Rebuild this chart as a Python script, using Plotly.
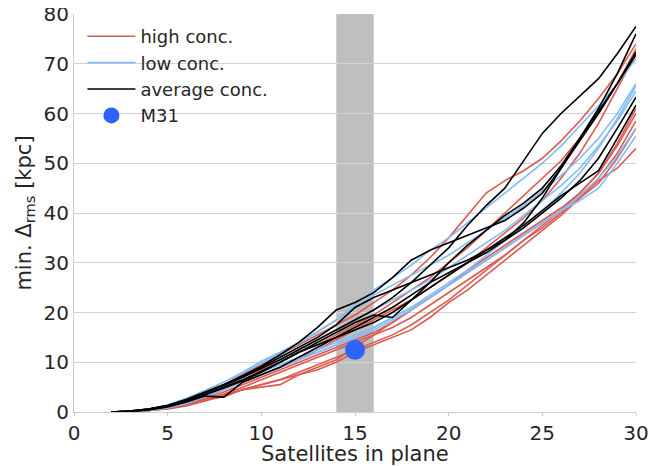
import plotly.graph_objects as go

n_sat = list(range(2, 31))

high_conc = [
    [0,0.2,0.6,1.3,2.5,4,5.5,7.5,9.5,11.5,13.5,15.5,17.5,19.5,22,24.5,27.5,31,35,39.5,44,46.5,48.5,51,54.5,58.5,63,68,74],
    [0,0.2,0.5,1.1,2.2,3.5,5,7,8.5,10,12,13.5,15.5,17.5,19.5,22,24.5,27,30,33,36.5,40,43.5,47,50.5,55,60,66,73],
    [0,0.1,0.4,0.9,1.8,3,4.5,6,7.5,9,10.5,12.5,14.5,16.5,18.5,20.5,22.5,25,27.5,30,33,36,39,42.5,47,52,58,65,72],
    [0,0.1,0.3,0.7,1.5,2.5,3.5,4.5,5.5,6.5,8,9.5,11,12.5,14,15.5,17.5,20,22.5,25.5,28.5,31.5,34.5,37.5,40.5,44,48,54,61],
    [0,0.1,0.3,0.8,1.6,2.6,3,4.5,5,5.5,7.5,9,10.5,13,15.5,18,20.5,23,25.5,28.5,31,33.5,36,38.5,41,44,48,53.5,60],
    [0,0.1,0.3,0.6,1.2,2.2,3.2,4.5,5.5,6.5,7.5,8.5,10,12,13.5,15,16.5,19,22,24.5,27.5,30.5,33.5,36.5,39.5,43,47,52,58.5],
    [0,0.1,0.4,0.9,1.8,2.8,4,5.5,7,8.5,10,11.5,13,14.5,16,18,20.5,23,25.5,28,30.5,33,35.5,38,40.5,43.5,46.5,49,53],
    [0,0.1,0.3,0.7,1.4,2.4,3.6,5,6.5,8,9.5,11,12.5,14,15.5,17,19,21.5,24,26.5,29,31.5,34.5,37,40,43,46,51,57],
]

low_conc = [
    [0,0.2,0.6,1.4,2.7,4.3,6,8,10.2,12,14,16.2,18.5,21.5,24.5,27,29.5,32.5,35,38,41,44,47,50,53.5,57.5,61.5,66,71],
    [0,0.2,0.6,1.4,2.7,4.2,6,7.8,9.8,11.8,13.8,16,18.5,21,23.5,25.5,27.5,29.5,31.5,34,36.5,39,41.5,44.5,47.5,51,55,60,66],
    [0,0.1,0.4,1,2,3.3,4.8,6.3,8,9.5,11,12.5,14,15.5,17,19,21,23.5,26,28.5,31.5,34.5,37.5,40.5,44,48,53,59,65.5],
    [0,0.2,0.5,1.2,2.3,3.8,5.3,7,9,10.5,12.5,14.5,16.5,18.5,20.5,22.5,24.5,26.5,29,31.5,34,36.5,39.5,42.5,45.5,49,53.5,58.5,64.5],
    [0,0.1,0.4,0.9,1.9,3.2,4.6,6,7.5,9,10.5,12,13.5,15,16.5,18.5,20.5,23,25.5,28,30.5,33,35.5,38,40.5,43.5,47,51.5,57],
    [0,0.1,0.3,0.8,1.7,3,4.5,6,7.5,9,10.5,12,13.5,15,17,19,21,23,25.5,28,30.5,33,35.5,38,40.5,42.5,45,50,55.5],
]

avg_conc = [
    [0,0.2,0.6,1.3,2.4,3.8,5.3,7,8.7,10.5,12.5,14.5,16.5,18.5,20.5,23,26,29.5,33,37.5,41.5,45,50.5,56,60,63.5,67,72,77.5],
    [0,0.2,0.6,1.3,2.5,4,5.5,7.3,9.2,11.5,14,17,20.5,22,24,27,30.5,32.5,34,35.5,37,38.5,41,44,49,55,61,68,76],
    [0,0.1,0.4,1,2,3.2,3,6,7.5,9,11,13,15,17,19,21,23.5,26,28,30,32,34.5,38,43,49,54.5,60,66,72.4],
    [0,0.1,0.5,1.1,2.1,3.4,4.8,6.3,8,10,12,14,16,18,19.5,19,22.5,26,30,33.5,36.5,39.5,42,45,49.5,55,60.5,66,71.8],
    [0,0.2,0.6,1.3,2.5,4,5.5,7.2,9,11,13,15,17.5,21,23,24.5,26,27.5,29,30.5,32.5,34.5,37,40,43,46.5,51,57,63.3],
    [0,0.1,0.5,1.2,2.2,3.5,5,6.5,8.2,10,12,13.5,15,16.5,18,20,22.5,25,27.5,30,32.5,35,37.5,40.5,43.5,46,48.5,55,61.7],
]

m31_x = [15]
m31_y = [12.5]

band_x = [14, 16]

x_ticks = [0, 5, 10, 15, 20, 25, 30]
y_ticks = [0, 10, 20, 30, 40, 50, 60, 70, 80]

x_title = "Satellites in plane"
y_title = "min. Δ<sub>rms</sub> [kpc]"

RED = "#dd5a50"
BLUE = "#82bdf5"
BLACK = "#000000"
M31C = "#2d63f8"

fig = go.Figure()

groups = [
    ("high conc.", high_conc, RED),
    ("low conc.", low_conc, BLUE),
    ("average conc.", avg_conc, BLACK),
]
for name, series, color in groups:
    for i, ys in enumerate(series):
        fig.add_trace(go.Scatter(
            x=n_sat, y=ys, mode="lines", name=name, legendgroup=name,
            showlegend=(i == 0), line=dict(color=color, width=1.6),
        ))

fig.add_trace(go.Scatter(
    x=m31_x, y=m31_y, mode="markers", name="M31",
    marker=dict(color=M31C, size=20, line=dict(width=0)),
))

fig.add_shape(type="rect", xref="x", yref="paper", x0=band_x[0], x1=band_x[1],
              y0=0, y1=1, fillcolor="#bfbfbf", line=dict(width=0), layer="below")

fig.add_annotation(text=x_title, xref="paper", yref="paper", x=0.5, y=0,
                   xanchor="center", yanchor="top", yshift=-28, showarrow=False,
                   font=dict(size=21, color="#262626"))

font = "DejaVu Sans, Verdana, sans-serif"
fig.update_layout(
    width=654, height=458,
    margin=dict(l=66, r=26, t=6, b=54, autoexpand=False),
    plot_bgcolor="white", paper_bgcolor="white",
    font=dict(family=font, color="#262626", size=17),
    showlegend=True,
    legend=dict(x=0.015, y=0.99, xanchor="left", yanchor="top",
                bgcolor="rgba(0,0,0,0)", borderwidth=0,
                font=dict(size=18, color="#262626"), itemwidth=48,
                tracegroupgap=0),
    xaxis=dict(range=[0, 30], tickvals=x_ticks, showgrid=False, zeroline=False,
               showline=True, linecolor="#cccccc", linewidth=1, automargin=False,
               ticks="outside", ticklen=3, tickcolor="#cccccc",
               tickfont=dict(size=20), ticklabeloverflow="allow"),
    yaxis=dict(range=[0, 80], tickvals=y_ticks, showgrid=True, gridcolor="#d4d4d4",
               gridwidth=1, zeroline=False, showline=True, linecolor="#cccccc",
               linewidth=1, ticks="", tickfont=dict(size=20), automargin=False,
               ticklabeloverflow="allow",
               title=dict(text=y_title, font=dict(size=21), standoff=6)),
)

fig.write_html("out.html")
